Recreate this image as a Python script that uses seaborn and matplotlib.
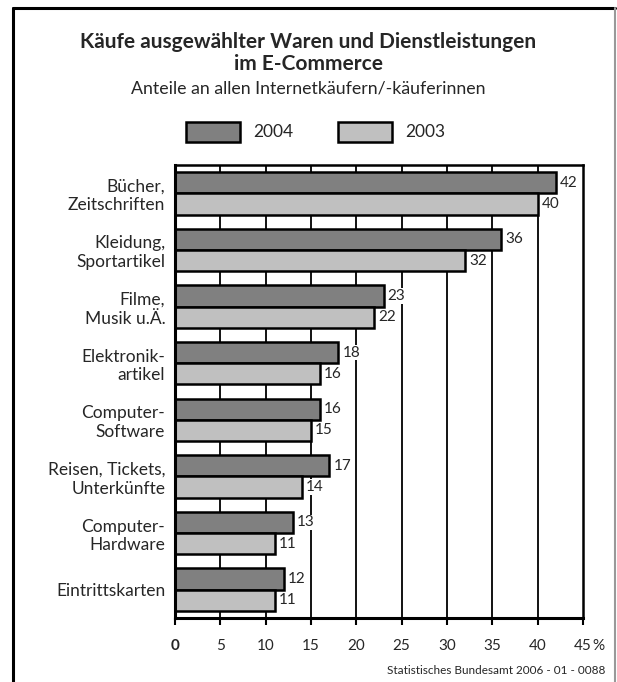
import matplotlib
matplotlib.use("Agg")
import matplotlib.pyplot as plt
from matplotlib.patches import Rectangle
from matplotlib.lines import Line2D
import seaborn as sns
import pandas as pd

# Data
categories = [
    "Bücher,\nZeitschriften",
    "Kleidung,\nSportartikel",
    "Filme,\nMusik u.Ä.",
    "Elektronik-\nartikel",
    "Computer-\nSoftware",
    "Reisen, Tickets,\nUnterkünfte",
    "Computer-\nHardware",
    "Eintrittskarten",
]
values_2004 = [42, 36, 23, 18, 16, 17, 13, 12]
values_2003 = [40, 32, 22, 16, 15, 14, 11, 11]
years = ["2004", "2003"]
colors = ["#808080", "#c0c0c0"]
xticks = [0, 5, 10, 15, 20, 25, 30, 35, 40, 45]

df = pd.DataFrame({
    "Kategorie": categories * 2,
    "Anteil": values_2004 + values_2003,
    "Jahr": [years[0]] * len(categories) + [years[1]] * len(categories),
})

sns.set_theme(style="white")
plt.rcParams["font.family"] = ["Lato", "DejaVu Sans"]

W, H = 617, 682
fig = plt.figure(figsize=(W / 100, H / 100), dpi=100)
ax = fig.add_axes([175 / W, 1 - 618 / H, (583 - 175) / W, (618 - 165) / H])

# grid lines behind the bars
for x in xticks[1:-1]:
    ax.axvline(x, color="black", lw=1.3, zorder=0)

sns.barplot(
    data=df, y="Kategorie", x="Anteil", hue="Jahr", hue_order=years,
    palette=colors, orient="h", width=0.75, edgecolor="black",
    linewidth=1.8, legend=False, ax=ax, zorder=2,
)

for cont in ax.containers:
    ax.bar_label(cont, fmt="%d", padding=3, fontsize=11,
                 bbox=dict(facecolor="white", edgecolor="none", pad=0.6),
                 zorder=3)

ax.set_xlim(0, 45)
ax.set_ylim(7.5, -0.5)
ax.set_xlabel("")
ax.set_ylabel("")
tick_len, tick_pad = 5, 10
ax.set_xticks(xticks)
ax.set_xticklabels([str(t) for t in xticks], fontsize=11)
ax.get_xticklabels()[0].set_fontweight("bold")
ax.tick_params(axis="x", direction="out", length=tick_len, width=1.5, color="black",
               pad=tick_pad, bottom=True)
ax.tick_params(axis="y", length=0, pad=7, labelsize=12.5)
for lbl in ax.get_yticklabels():
    lbl.set_multialignment("right")
    lbl.set_linespacing(1.2)

for side in ["left", "bottom"]:
    ax.spines[side].set_linewidth(2.2)
    ax.spines[side].set_color("black")
for side in ["top", "right"]:
    ax.spines[side].set_linewidth(1.8)
    ax.spines[side].set_color("black")
    ax.spines[side].set_visible(True)

# percent sign after the last tick label
ax.annotate("%", xy=(45, 0), xycoords=ax.get_xaxis_transform(),
            xytext=(6.5, -(tick_len + tick_pad)), textcoords="offset points",
            ha="left", va="top", fontsize=11)

# Titles
fig.text(0.5, 1 - 42 / H, "Käufe ausgewählter Waren und Dienstleistungen",
         ha="center", va="center", fontsize=15, fontweight="bold")
fig.text(0.5, 1 - 64 / H, "im E-Commerce", ha="center", va="center",
         fontsize=15, fontweight="bold")
fig.text(0.5, 1 - 88 / H, "Anteile an allen Internetkäufern/-käuferinnen",
         ha="center", va="center", fontsize=12.8)

# Legend
for (x0, lab, col) in [(186, years[0], colors[0]), (338, years[1], colors[1])]:
    fig.patches.append(Rectangle((x0 / W, 1 - 142 / H), 54 / W, 20 / H,
                                 transform=fig.transFigure, facecolor=col,
                                 edgecolor="black", linewidth=1.8))
    fig.text((x0 + 67) / W, 1 - 132 / H, lab, ha="left", va="center", fontsize=12.5)

# Source
fig.text(605 / W, 1 - 670 / H, "Statistisches Bundesamt 2006 - 01 - 0088",
         ha="right", va="center", fontsize=8.5)

# Outer frame
fig.add_artist(Line2D([13 / W, 13 / W], [0, 1 - 8 / H], transform=fig.transFigure,
                      color="black", lw=2.2))
fig.add_artist(Line2D([13 / W, 615 / W], [1 - 8 / H, 1 - 8 / H], transform=fig.transFigure,
                      color="black", lw=2.2))
fig.add_artist(Line2D([615 / W, 615 / W], [0, 1 - 8 / H], transform=fig.transFigure,
                      color="#999999", lw=1.5))

fig.savefig("out.png", dpi=100, facecolor="white")
